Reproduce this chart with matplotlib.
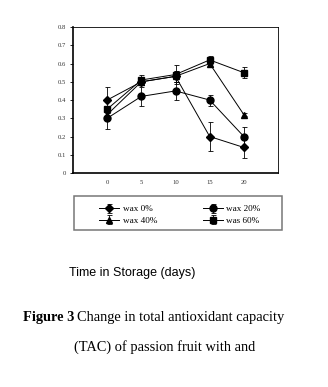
import matplotlib
matplotlib.use("Agg")
import matplotlib.pyplot as plt
from matplotlib.patches import Rectangle

days = [0, 5, 10, 15, 20]

wax0 = [0.40, 0.50, 0.53, 0.20, 0.14]
wax0_err = [0.07, 0.02, 0.03, 0.08, 0.06]
wax20 = [0.30, 0.42, 0.45, 0.40, 0.20]
wax20_err = [0.06, 0.05, 0.05, 0.03, 0.05]
wax40 = [0.32, 0.50, 0.53, 0.60, 0.32]
wax40_err = [0.02, 0.02, 0.03, 0.02, 0.01]
wax60 = [0.35, 0.51, 0.54, 0.62, 0.55]
wax60_err = [0.02, 0.03, 0.05, 0.02, 0.03]

labels = ["wax 0%", "wax 20%", "wax 40%", "was 60%"]
markers = ["D", "o", "^", "s"]

fig = plt.figure(figsize=(3.28, 3.87), dpi=100)
ax = fig.add_axes([0.2226, 0.553, 0.625, 0.377])

handles = []
for vals, errs, m, lab in zip([wax0, wax20, wax40, wax60],
                              [wax0_err, wax20_err, wax40_err, wax60_err],
                              markers, labels):
    ms = 4.2 if m == "D" else 5.0
    h = ax.errorbar(days, vals, yerr=errs, color="black", marker=m, markersize=ms,
                    linewidth=0.7, elinewidth=0.6, capsize=1.8, capthick=0.6, label=lab)
    handles.append(h)

ax.set_xlim(-5, 25)
ax.set_ylim(0, 0.8)
ax.set_xticks(days)
ax.set_yticks([0, 0.1, 0.2, 0.3, 0.4, 0.5, 0.6, 0.7, 0.8])
ax.set_yticklabels(["0", "0.1", "0.2", "0.3", "0.4", "0.5", "0.6", "0.7", "0.8"])
for lbl in ax.get_xticklabels() + ax.get_yticklabels():
    lbl.set_fontfamily("Liberation Serif")
    lbl.set_fontsize(4.8)
    lbl.set_color("#333333")
ax.tick_params(axis="both", length=2, width=0.6, pad=3)
ax.tick_params(axis="x", length=0, pad=5)
for sp in ax.spines.values():
    sp.set_linewidth(0.6)
ax.spines["left"].set_linewidth(1.2)
ax.spines["bottom"].set_linewidth(1.2)

# legend: entries centred inside a grey box as wide as the plot area
order = [handles[0], handles[2], handles[1], handles[3]]
fig.legend(order, [h.get_label() for h in order], ncol=2,
           loc="center", bbox_to_anchor=(180 / 328, 1 - 215 / 387),
           prop={"family": "Liberation Serif", "size": 6.6},
           frameon=False, handlelength=2.2, labelspacing=0.35,
           columnspacing=5.0, handletextpad=0.35, borderpad=0)
fig.patches.append(Rectangle((74 / 328, 1 - 230 / 387), 208 / 328, 34 / 387,
                             transform=fig.transFigure, fill=False,
                             edgecolor="#777777", linewidth=1.1))

fig.text(132 / 328, 1 - 273 / 387, "Time in Storage (days)", ha="center", va="center",
         family="Liberation Sans", fontsize=9.0)

# caption: bold "Figure 3" followed by regular text
fig.canvas.draw()
renderer = fig.canvas.get_renderer()
cy = 1 - 317 / 387
t1 = fig.text(23 / 328, cy, "Figure 3", ha="left", va="center",
              family="Liberation Serif", fontweight="bold", fontsize=10.4)
bb = t1.get_window_extent(renderer)
fig.text((bb.x1 + 3) / 328, cy, "Change in total antioxidant capacity",
         ha="left", va="center", family="Liberation Serif", fontsize=10.4)
fig.text(165 / 328, 1 - 347 / 387, "(TAC) of passion fruit with and", ha="center",
         va="center", family="Liberation Serif", fontsize=10.4)

fig.savefig("out.png", dpi=100)
